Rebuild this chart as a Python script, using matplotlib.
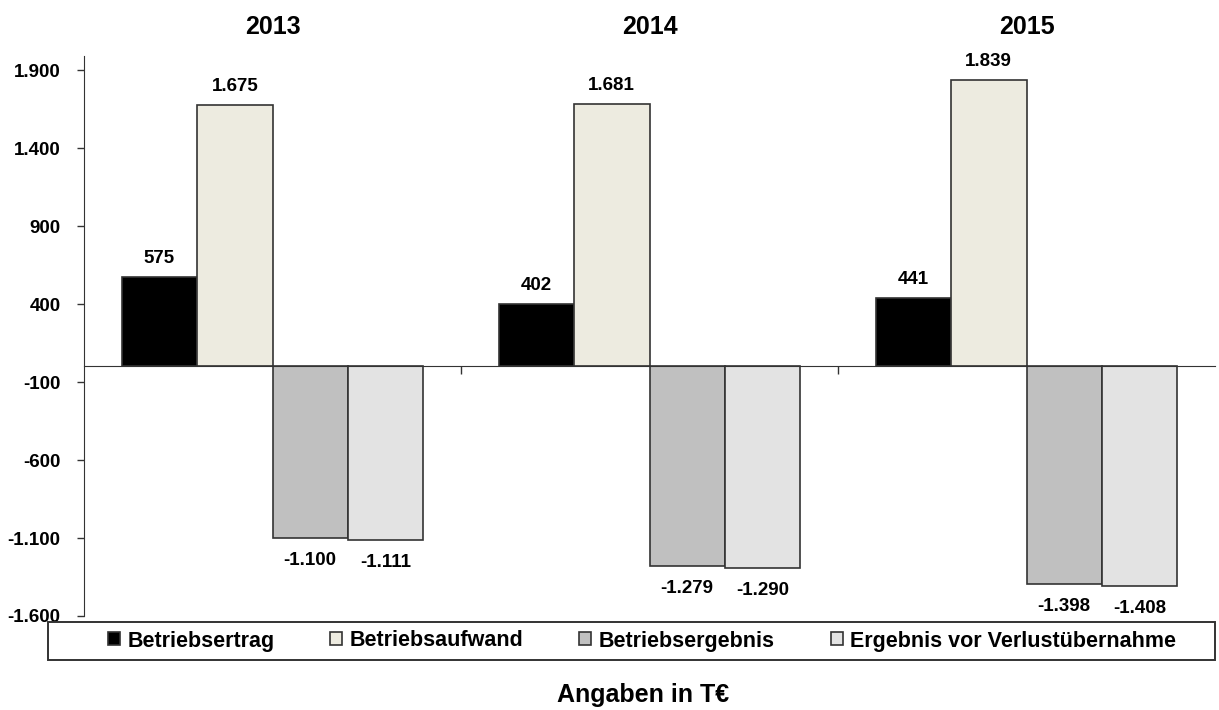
import matplotlib
matplotlib.use("Agg")
from matplotlib import pyplot as plt
from matplotlib import transforms
from matplotlib.patches import Rectangle
import numpy as np

plt.rcParams['font.family'] = ['Liberation Sans', 'DejaVu Sans']
plt.rcParams['font.weight'] = 'bold'

years = ['2013', '2014', '2015']
series = ['Betriebsertrag', 'Betriebsaufwand', 'Betriebsergebnis', 'Ergebnis vor Verlustübernahme']
ertrag = [575, 402, 441]
aufwand = [1675, 1681, 1839]
ergebnis = [-1100, -1279, -1398]
vor_verlust = [-1111, -1290, -1408]
colors = ['#000000', '#EDEBE0', '#C0C0C0', '#E3E3E3']
yticks = [-1600, -1100, -600, -100, 400, 900, 1400, 1900]


def de(v):
    # german thousands separator
    return f"{v:,}".replace(",", ".")


fig = plt.figure(figsize=(12.19, 7.10), dpi=100)
ax = fig.add_axes([84/1219, 1-616/710, (1215-84)/1219, (616-56)/710])

x = np.arange(len(years))
w = 0.2
all_vals = [ertrag, aufwand, ergebnis, vor_verlust]
for k, vals in enumerate(all_vals):
    pos = x + (k - 1.5) * w
    bars = ax.bar(pos, vals, w, color=colors[k], edgecolor='#333333', linewidth=1.2, label=series[k], zorder=2)
    for b, v in zip(bars, vals):
        if v >= 0:
            ax.annotate(de(v), (b.get_x() + w/2, v), xytext=(0, 7), textcoords='offset points',
                        ha='center', va='bottom', fontsize=13.5, fontweight='bold')
        else:
            ax.annotate(de(v), (b.get_x() + w/2, v), xytext=(0, -10), textcoords='offset points',
                        ha='center', va='top', fontsize=13.5, fontweight='bold')

ax.set_xlim(-0.5, 2.5)
ax.set_ylim(-1600, 1990)
ax.set_yticks(yticks)
ax.set_yticklabels([de(t) for t in yticks], fontsize=13.5, fontweight='bold')
ax.tick_params(axis='y', direction='out', length=5, width=1, color='#333333', pad=12)

ax.spines['top'].set_visible(False)
ax.spines['right'].set_visible(False)
ax.spines['bottom'].set_position(('data', 0))
ax.spines['bottom'].set_color('#333333')
ax.spines['left'].set_color('#333333')
ax.set_xticks([0.5, 1.5])
ax.set_xticklabels([])
ax.tick_params(axis='x', direction='out', length=6, width=1, color='#333333')

trans = transforms.blended_transform_factory(ax.transData, ax.transAxes)
for i, yr in enumerate(years):
    ax.text(i, 1.052, yr, transform=trans, ha='center', va='center', fontsize=18, fontweight='bold')

# legend box below the plot
fig.patches.append(Rectangle((48/1219, 1-660/710), (1215-48)/1219, 38/710, transform=fig.transFigure,
                             facecolor='white', edgecolor='#333333', linewidth=1.4))
fig.legend(loc='center', bbox_to_anchor=(642/1219, 1-641/710), ncol=4, frameon=False,
           handlelength=0.55, handleheight=0.55, handletextpad=0.35, columnspacing=2.6,
           prop={'weight': 'bold', 'size': 15.5})

fig.text(643/1219, 1-695/710, 'Angaben in T€', ha='center', va='center', fontsize=18, fontweight='bold')

fig.savefig('out.png', dpi=100)
